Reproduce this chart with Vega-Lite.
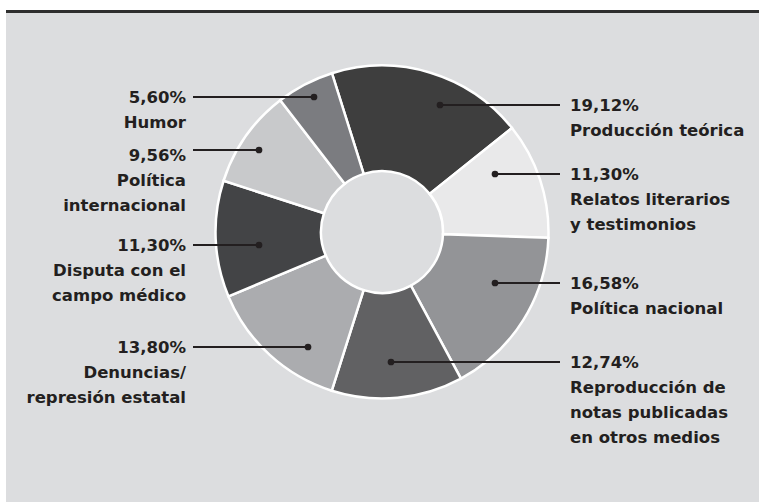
{
  "$schema": "https://vega.github.io/schema/vega-lite/v6.json",
  "width": 753,
  "height": 489,
  "autosize": {"type": "none"},
  "padding": {"left": 6, "top": 13, "right": 0, "bottom": 1},
  "background": "#ffffff",
  "config": {"view": {"stroke": null, "fill": "#dcdddf"}},
  "data": {
    "values": [
      {"cat": "Producción teórica", "pct": 19.12, "ord": 1, "label": "19,12%\nProducción teórica", "side": "R", "dx": 58, "ly": 127, "ty": 127},
      {"cat": "Relatos literarios y testimonios", "pct": 11.30, "ord": 2, "label": "11,30%\nRelatos literarios\ny testimonios", "side": "R", "dx": 113, "ly": 58, "ty": 58},
      {"cat": "Política nacional", "pct": 16.58, "ord": 3, "label": "16,58%\nPolítica nacional", "side": "R", "dx": 113, "ly": -51, "ty": -51},
      {"cat": "Reproducción de notas publicadas en otros medios", "pct": 12.74, "ord": 4, "label": "12,74%\nReproducción de\nnotas publicadas\nen otros medios", "side": "R", "dx": 9, "ly": -130, "ty": -130},
      {"cat": "Denuncias/represión estatal", "pct": 13.80, "ord": 5, "label": "13,80%\nDenuncias/\nrepresión estatal", "side": "L", "dx": -74, "ly": -115, "ty": -115},
      {"cat": "Disputa con el campo médico", "pct": 11.30, "ord": 6, "label": "11,30%\nDisputa con el\ncampo médico", "side": "L", "dx": -123, "ly": -13, "ty": -13},
      {"cat": "Política internacional", "pct": 9.56, "ord": 7, "label": "9,56%\nPolítica\ninternacional", "side": "L", "dx": -123, "ly": 82, "ty": 77},
      {"cat": "Humor", "pct": 5.60, "ord": 8, "label": "5,60%\nHumor", "side": "L", "dx": -68, "ly": 135, "ty": 135}
    ]
  },
  "resolve": {"scale": {"x": "shared", "y": "shared"}},
  "layer": [
    {
      "mark": {"type": "rule", "stroke": "#2e2e2e", "strokeWidth": 3, "yOffset": -1.5},
      "encoding": {
        "y": {"datum": 219, "type": "quantitative", "scale": {"domain": [-270, 219], "nice": false, "zero": false}, "axis": null}
      }
    },
    {
      "mark": {"type": "arc", "outerRadius": 166.5, "innerRadius": 61, "stroke": "#ffffff", "strokeWidth": 2.5},
      "encoding": {
        "x": {"datum": 0, "type": "quantitative", "scale": {"domain": [-376, 377], "nice": false, "zero": false}, "axis": null},
        "y": {"datum": 0, "type": "quantitative", "scale": {"domain": [-270, 219], "nice": false, "zero": false}, "axis": null},
        "theta": {"field": "pct", "type": "quantitative", "stack": true, "scale": {"domain": [0, 100], "range": [-0.30543, 5.97776]}},
        "order": {"field": "ord", "type": "quantitative"},
        "color": {
          "field": "cat", "type": "nominal", "legend": null,
          "scale": {
            "domain": ["Producción teórica", "Relatos literarios y testimonios", "Política nacional", "Reproducción de notas publicadas en otros medios", "Denuncias/represión estatal", "Disputa con el campo médico", "Política internacional", "Humor"],
            "range": ["#3e3e3e", "#e9e9ea", "#939497", "#616163", "#abacaf", "#434446", "#c8c9cb", "#7b7c80"]
          }
        }
      }
    },
    {
      "transform": [{"filter": "datum.side === 'R'"}],
      "mark": {"type": "rule", "stroke": "#231f20", "strokeWidth": 2},
      "encoding": {
        "x": {"field": "dx", "type": "quantitative"},
        "x2": {"datum": 178},
        "y": {"field": "ly", "type": "quantitative"}
      }
    },
    {
      "transform": [{"filter": "datum.side === 'L'"}],
      "mark": {"type": "rule", "stroke": "#231f20", "strokeWidth": 2},
      "encoding": {
        "x": {"field": "dx", "type": "quantitative"},
        "x2": {"datum": -189},
        "y": {"field": "ly", "type": "quantitative"}
      }
    },
    {
      "mark": {"type": "point", "shape": "circle", "filled": true, "fill": "#231f20", "opacity": 1, "size": 45, "strokeWidth": 0},
      "encoding": {
        "x": {"field": "dx", "type": "quantitative"},
        "y": {"field": "ly", "type": "quantitative"}
      }
    },
    {
      "transform": [{"filter": "datum.side === 'R'"}],
      "mark": {"type": "text", "align": "left", "baseline": "alphabetic", "dy": 6, "font": "DejaVu Sans", "fontWeight": "bold", "fontSize": 16.5, "lineBreak": "\n", "lineHeight": 25, "fill": "#231f20"},
      "encoding": {
        "x": {"datum": 188, "type": "quantitative"},
        "y": {"field": "ty", "type": "quantitative"},
        "text": {"field": "label"}
      }
    },
    {
      "transform": [{"filter": "datum.side === 'L'"}],
      "mark": {"type": "text", "align": "right", "baseline": "alphabetic", "dy": 6, "font": "DejaVu Sans", "fontWeight": "bold", "fontSize": 16.5, "lineBreak": "\n", "lineHeight": 25, "fill": "#231f20"},
      "encoding": {
        "x": {"datum": -196, "type": "quantitative"},
        "y": {"field": "ty", "type": "quantitative"},
        "text": {"field": "label"}
      }
    }
  ]
}
